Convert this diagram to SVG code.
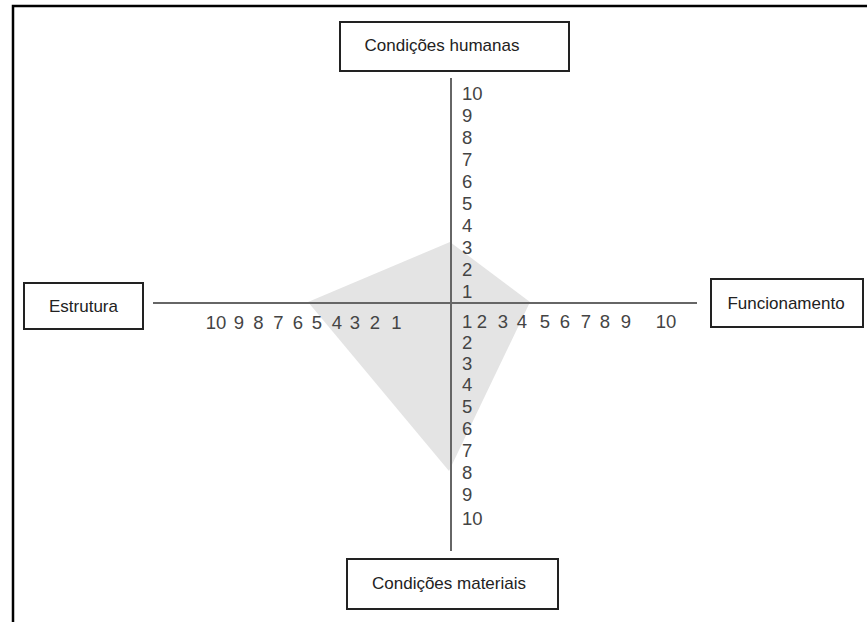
<svg xmlns="http://www.w3.org/2000/svg" width="867" height="622" viewBox="0 0 867 622">
  <style>
    .frame { stroke: #000; stroke-width: 2.5; fill: none; }
    .box rect { fill: #fff; stroke: #222; stroke-width: 2; }
    .box text { font-family: "Liberation Sans", Arial, sans-serif; font-size: 17px; fill: #222; text-anchor: middle; }
    .axis { stroke: #666; stroke-width: 2; fill: none; }
    .num { font-family: "Liberation Sans", Arial, sans-serif; font-size: 18.5px; fill: #444; }
    .num text.c { text-anchor: middle; }
    .area { fill: #e4e4e4; }
  </style>
  <rect width="867" height="622" fill="#fff"/>

  <!-- page frame -->
  <path class="frame" d="M13 622 V6 H867"/>

  <!-- rating area -->
  <polygon class="area" points="450,242 530,302 449,471 308,302"/>

  <!-- axes -->
  <g id="connectors">
    <line class="axis" x1="451" y1="78" x2="451" y2="551"/>
    <line class="axis" x1="153" y1="303" x2="697" y2="303"/>
  </g>

  <!-- scale: upper axis -->
  <g class="num">
    <text x="462" y="99.5">10</text>
    <text x="462" y="121.6">9</text>
    <text x="462" y="143.7">8</text>
    <text x="462" y="165.8">7</text>
    <text x="462" y="187.9">6</text>
    <text x="462" y="210">5</text>
    <text x="462" y="232">4</text>
    <text x="462" y="254">3</text>
    <text x="462" y="276">2</text>
    <text x="462" y="298">1</text>
  </g>

  <!-- scale: lower axis -->
  <g class="num">
    <text x="462" y="327.5">1</text>
    <text x="462" y="348.5">2</text>
    <text x="462" y="369.5">3</text>
    <text x="462" y="391">4</text>
    <text x="462" y="413">5</text>
    <text x="462" y="434.5">6</text>
    <text x="462" y="456.5">7</text>
    <text x="462" y="479">8</text>
    <text x="462" y="501">9</text>
    <text x="462" y="524.5">10</text>
  </g>

  <!-- scale: left axis -->
  <g class="num">
    <text class="c" x="216" y="329">10</text>
    <text class="c" x="239" y="329">9</text>
    <text class="c" x="258.5" y="329">8</text>
    <text class="c" x="278.5" y="329">7</text>
    <text class="c" x="298" y="329">6</text>
    <text class="c" x="317" y="329">5</text>
    <text class="c" x="337" y="329">4</text>
    <text class="c" x="355" y="329">3</text>
    <text class="c" x="375" y="329">2</text>
    <text class="c" x="396.5" y="329">1</text>
  </g>

  <!-- scale: right axis -->
  <g class="num">
    <text class="c" x="482" y="327.5">2</text>
    <text class="c" x="503" y="327.5">3</text>
    <text class="c" x="522" y="327.5">4</text>
    <text class="c" x="545" y="327.5">5</text>
    <text class="c" x="565" y="327.5">6</text>
    <text class="c" x="586" y="327.5">7</text>
    <text class="c" x="605" y="327.5">8</text>
    <text class="c" x="626" y="327.5">9</text>
    <text class="c" x="666" y="327.5">10</text>
  </g>

  <!-- axis labels -->
  <g id="node-humanas" class="box">
    <rect x="340" y="22" width="229" height="49"/>
    <text x="442" y="51">Condições humanas</text>
  </g>
  <g id="node-estrutura" class="box">
    <rect x="24" y="283" width="119" height="46"/>
    <text x="83.5" y="312">Estrutura</text>
  </g>
  <g id="node-funcionamento" class="box">
    <rect x="711" y="279" width="152" height="48"/>
    <text x="786" y="309">Funcionamento</text>
  </g>
  <g id="node-materiais" class="box">
    <rect x="347" y="559" width="211" height="50"/>
    <text x="449" y="589">Condições materiais</text>
  </g>
</svg>
